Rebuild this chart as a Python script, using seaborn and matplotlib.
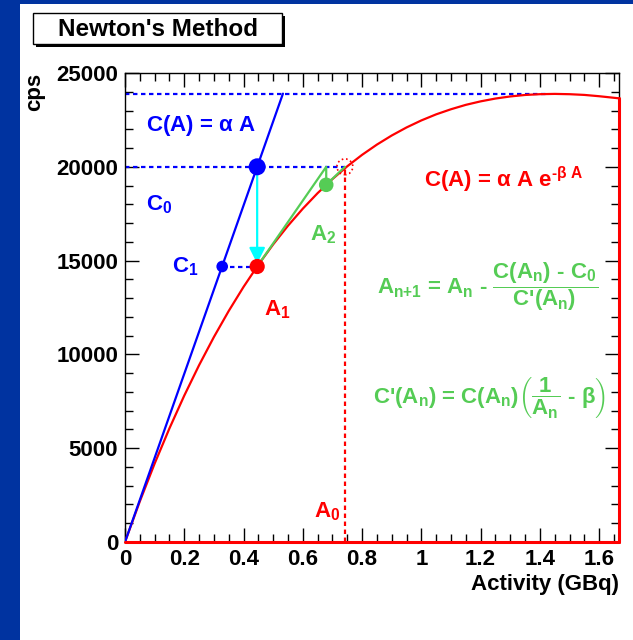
import matplotlib
matplotlib.use("Agg")
import matplotlib.pyplot as plt
from matplotlib.patches import Rectangle
import seaborn as sns
import pandas as pd

# ---- data ----
activity = [0.0, 0.05, 0.1, 0.15, 0.2, 0.25, 0.3, 0.35, 0.4, 0.45, 0.5, 0.55, 0.6,
            0.65, 0.7, 0.75, 0.8, 0.85, 0.9, 0.95, 1.0, 1.05, 1.1, 1.15, 1.2, 1.25,
            1.3, 1.35, 1.4, 1.45, 1.5, 1.55, 1.6, 1.667]
cps_curve = [0, 2164, 4181, 6059, 7805, 9426, 10927, 12315, 13598, 14779, 15864,
             16859, 17768, 18596, 19346, 20026, 20637, 21183, 21668, 22097, 22472,
             22796, 23068, 23302, 23488, 23638, 23750, 23829, 23871, 23886, 23870,
             23832, 23762, 23650]
linear_x = [0.0, 0.533]
linear_y = [0, 23900]
C0 = 20000
C_max = 23900
A0 = 0.742
A1 = 0.446
C_A1 = 14685
C1_x = 0.328
A2 = 0.679
C_A2 = 19040
newton_x = [A1, A2, A2, A0]
newton_y = [C_A1, C0, C_A2, C0]
xmax = 1.667

BLUE = "#0000ff"
RED = "#ff0000"
GREEN = "#55cc55"
CYAN = "#00ffff"

sns.set_theme(style="ticks")
plt.rcParams["font.family"] = ["Liberation Sans", "DejaVu Sans"]
plt.rcParams["font.weight"] = "bold"
plt.rcParams["mathtext.fontset"] = "custom"
plt.rcParams["mathtext.rm"] = "Liberation Sans:bold"
plt.rcParams["mathtext.it"] = "Liberation Sans:bold"
plt.rcParams["mathtext.bf"] = "Liberation Sans:bold"
plt.rcParams["mathtext.sf"] = "Liberation Sans:bold"
plt.rcParams["mathtext.default"] = "rm"

fig = plt.figure(figsize=(6.33, 6.40), dpi=100)
fig.patch.set_facecolor("white")
W, H = 633, 640
# blue frame
fig.patches.append(Rectangle((0, 0), 20 / W, 1, transform=fig.transFigure,
                             facecolor="#0033a0", edgecolor="none", zorder=0))
fig.patches.append(Rectangle((0, 1 - 4 / H), 1, 4 / H, transform=fig.transFigure,
                             facecolor="#0033a0", edgecolor="none", zorder=0))
# title box with shadow
fig.patches.append(Rectangle((36 / W, 1 - 47 / H), 249 / W, 31 / H, transform=fig.transFigure,
                             facecolor="black", edgecolor="none", zorder=1))
fig.patches.append(Rectangle((33 / W, 1 - 44 / H), 249 / W, 31 / H, transform=fig.transFigure,
                             facecolor="white", edgecolor="black", lw=1, zorder=2))
fig.text(157.5 / W, 1 - 29 / H, "Newton's Method", ha="center", va="center",
         fontsize=17.5, fontweight="bold", color="black", zorder=3)

ax = fig.add_axes([125 / W, 98 / H, 494 / W, 469 / H])
ax.set_facecolor("white")

# red curve
sns.lineplot(x=activity, y=cps_curve, ax=ax, color=RED, lw=1.6, sort=False,
             estimator=None, zorder=3)
ax.plot([0, xmax], [0, 0], color=RED, lw=2.2, clip_on=False, zorder=4)
ax.plot([xmax, xmax], [0, cps_curve[-1]], color=RED, lw=2.2, clip_on=False, zorder=4)
# blue line
sns.lineplot(x=linear_x, y=linear_y, ax=ax, color=BLUE, lw=1.6, estimator=None, zorder=3)

dot = (0, (2.0, 1.6))
ax.plot([0, 1.427], [C_max, C_max], color=BLUE, lw=1.6, ls=dot, zorder=2)
ax.plot([0, A0], [C0, C0], color=BLUE, lw=1.6, ls=dot, zorder=2)
ax.plot([C1_x, A1], [C_A1, C_A1], color=BLUE, lw=1.6, ls=dot, zorder=2)
ax.plot([A0, A0], [0, C0], color=RED, lw=1.6, ls=dot, zorder=2)

# green Newton steps
sns.lineplot(x=newton_x, y=newton_y, ax=ax, color=GREEN, lw=1.6, sort=False,
             estimator=None, zorder=4)

# cyan arrow
ax.annotate("", xy=(A1, C_A1 + 150), xytext=(A1, C0),
            arrowprops=dict(arrowstyle="-|>,head_length=0.8,head_width=0.4",
                            color=CYAN, lw=1.6, shrinkA=0, shrinkB=0), zorder=5)

# points
pts = pd.DataFrame({"x": [A1, C1_x], "y": [C0, C_A1]})
sns.scatterplot(data=pts.iloc[[0]], x="x", y="y", ax=ax, color=BLUE, s=150,
                edgecolor="none", zorder=6)
sns.scatterplot(data=pts.iloc[[1]], x="x", y="y", ax=ax, color=BLUE, s=70,
                edgecolor="none", zorder=6)
sns.scatterplot(x=[A1], y=[C_A1], ax=ax, color=RED, s=120, edgecolor="none", zorder=5)
sns.scatterplot(x=[A2], y=[C_A2], ax=ax, color=GREEN, s=110, edgecolor="none", zorder=6)
ax.scatter([A0], [C0], s=130, facecolors="none", edgecolors=RED, linewidths=1.2,
           linestyles=":", zorder=6)

# axes styling
ax.set_xlim(0, xmax)
ax.set_ylim(0, 25000)
ax.set_xticks([0, 0.2, 0.4, 0.6, 0.8, 1.0, 1.2, 1.4, 1.6])
ax.set_xticklabels(["0", "0.2", "0.4", "0.6", "0.8", "1", "1.2", "1.4", "1.6"])
ax.set_xticks([i * 0.05 for i in range(34)], minor=True)
ax.set_yticks([0, 5000, 10000, 15000, 20000, 25000])
ax.set_yticks(list(range(0, 25001, 1000)), minor=True)
ax.tick_params(which="both", direction="in", top=True, right=True, colors="black",
               width=1.0)
ax.tick_params(which="major", length=10)
ax.tick_params(which="minor", length=5.5)
ax.tick_params(axis="x", which="major", pad=5, labelsize=16)
ax.tick_params(axis="y", which="major", pad=5, labelsize=16)
for lab in ax.get_xticklabels() + ax.get_yticklabels():
    lab.set_fontweight("bold")
    lab.set_color("black")
for sp in ax.spines.values():
    sp.set_color("black")
    sp.set_linewidth(1.0)
    sp.set_visible(True)
ax.set_xlabel("Activity (GBq)", loc="right", fontsize=16, fontweight="bold",
              labelpad=3, color="black")
ax.set_ylabel("cps", loc="top", fontsize=16, fontweight="bold", labelpad=8,
              color="black")

# annotations
fs = 16
ax.text(0.07, 22200, r"C(A) = $\alpha$ A", color=BLUE, fontsize=fs, va="center")
ax.text(0.07, 18000, r"C$_0$", color=BLUE, fontsize=fs, va="center")
ax.text(0.16, 14700, r"C$_1$", color=BLUE, fontsize=fs, va="center")
ax.text(0.47, 12400, r"A$_1$", color=RED, fontsize=fs, va="center")
ax.text(0.625, 16400, r"A$_2$", color=GREEN, fontsize=fs, va="center")
ax.text(0.725, 1600, r"A$_0$", color=RED, fontsize=fs, va="center", ha="right")
ax.text(1.545, 19300, r"C(A) = $\alpha$ A e$^{\text{-}\beta\ A}$", color=RED, fontsize=fs,
        va="center", ha="right")
ax.text(1.595, 13600,
        r"A$_{n\text{+}1}$ = A$_n$ - $\dfrac{C(A_n)\ \text{-}\ C_0}{C\text{'}(A_n)}$",
        color=GREEN, fontsize=fs, va="center", ha="right")
ax.text(1.625, 7700,
        r"C'(A$_n$) = C(A$_n$)$\left(\dfrac{1}{A_n}\ \text{-}\ \beta\right)$",
        color=GREEN, fontsize=fs, va="center", ha="right")

fig.savefig("out.png", dpi=100, facecolor="white")
